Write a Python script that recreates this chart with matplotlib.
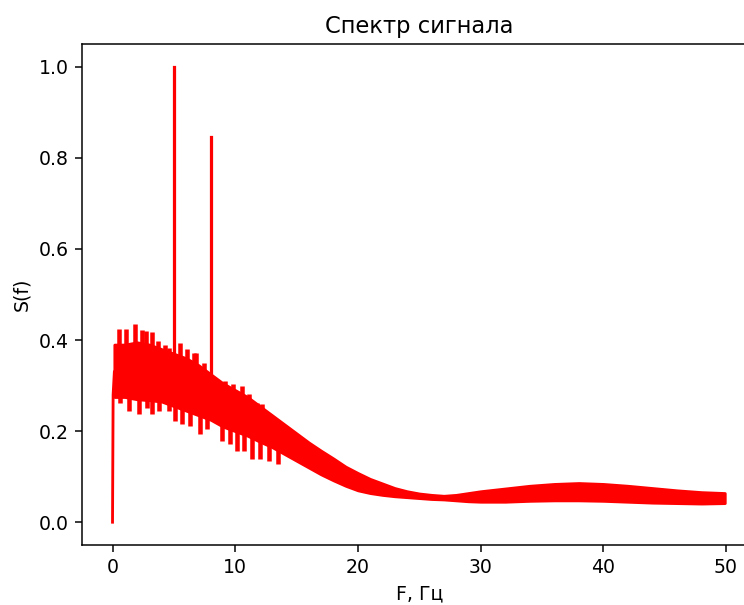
import numpy as np
from matplotlib import pyplot as plt

# сплошная часть спектра
freq = [0.15, 1, 2, 3, 4, 5, 6, 7, 8, 9, 10, 11, 12, 13, 14, 15, 16, 17, 18, 19,
        20, 21, 22, 23, 24, 25, 26, 27, 28, 29, 30, 32, 34, 36, 38, 40, 42, 44, 46, 48, 49.9]
upper = [0.39, 0.39, 0.395, 0.39, 0.38, 0.37, 0.36, 0.345, 0.325, 0.305, 0.29, 0.275, 0.255,
         0.235, 0.215, 0.195, 0.175, 0.157, 0.14, 0.122, 0.108, 0.095, 0.085, 0.075, 0.068,
         0.063, 0.06, 0.058, 0.06, 0.064, 0.068, 0.074, 0.08, 0.084, 0.086, 0.084, 0.08,
         0.075, 0.07, 0.066, 0.064]
lower = [0.275, 0.275, 0.27, 0.268, 0.265, 0.255, 0.245, 0.235, 0.225, 0.21, 0.2, 0.19, 0.177,
         0.165, 0.15, 0.135, 0.12, 0.105, 0.092, 0.08, 0.07, 0.064, 0.06, 0.057, 0.055,
         0.053, 0.051, 0.05, 0.048, 0.046, 0.045, 0.045, 0.047, 0.048, 0.048, 0.047, 0.045,
         0.043, 0.042, 0.041, 0.042]

# выбросы колебаний вверх и вниз
up_tip_f = [0.52, 1.11, 1.87, 2.42, 2.69, 3.18, 3.72, 4.26, 4.59, 5.46, 6.08, 6.62, 6.84,
            7.44, 8.66, 9.2, 9.83, 10.56, 11.1, 11.78, 12.19, 12.87, 13.54]
up_tip_s = [0.424, 0.424, 0.436, 0.421, 0.42, 0.418, 0.398, 0.39, 0.383, 0.393, 0.38, 0.372,
            0.372, 0.35, 0.311, 0.31, 0.304, 0.299, 0.281, 0.262, 0.259, 0.233, 0.222]
low_tip_f = [0.65, 1.33, 2.14, 2.82, 3.23, 3.77, 4.59, 5.13, 5.67, 6.35, 7.17, 7.71, 8.93,
             9.61, 10.15, 10.69, 11.37, 12.05, 12.73, 13.46]
low_tip_s = [0.262, 0.244, 0.237, 0.251, 0.237, 0.244, 0.244, 0.222, 0.215, 0.211, 0.193,
             0.204, 0.178, 0.171, 0.156, 0.156, 0.138, 0.138, 0.134, 0.128]

# начало спектра и пики
start_f = [0, 0.05, 0.15]
start_s = [0, 0.28, 0.33]
peak_f = [5, 8]
peak_s = [1.0, 0.845]
peak_base = [0.30, 0.27]

fig = plt.figure(figsize=(7.44 / 1.36, 6.05 / 1.36), dpi=136)
ax = fig.add_axes([0.110, 0.0992, 0.907, 0.828])

ax.fill_between(freq, lower, upper, color='red', edgecolor='red', linewidth=1.5)
ax.vlines(up_tip_f, np.interp(up_tip_f, freq, upper) - 0.01, up_tip_s, colors='red', linewidth=2.4)
ax.vlines(low_tip_f, low_tip_s, np.interp(low_tip_f, freq, lower) + 0.01, colors='red', linewidth=2.4)
ax.plot(start_f, start_s, 'r', linewidth=1.5)
for f, s, b in zip(peak_f, peak_s, peak_base):
    ax.plot([f, f], [b, s], 'r', linewidth=1.7)

ax.set_xlim(-2.5, 52.5)
ax.set_ylim(-0.05, 1.05)
ax.set_title('Спектр сигнала')
ax.set_xlabel('F, Гц')
ax.set_ylabel('S(f)')

plt.savefig('out.png', dpi=136)
